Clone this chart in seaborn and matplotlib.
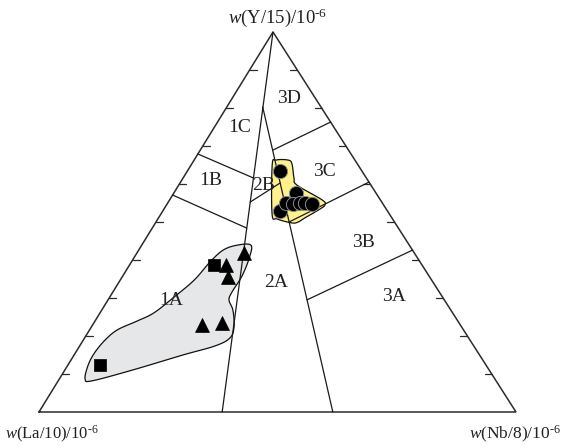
import numpy as np
import pandas as pd
import matplotlib
matplotlib.use("Agg")
import matplotlib.pyplot as plt
import seaborn as sns

sns.set_theme(style="white")
plt.rcParams["font.family"] = ["Liberation Serif", "DejaVu Serif"]
plt.rcParams["mathtext.fontset"] = "custom"
plt.rcParams["mathtext.rm"] = "Liberation Serif"
plt.rcParams["mathtext.it"] = "Liberation Serif:italic"

# ---------------- data: compositions in percent (La/10, Y/15, Nb/8) ----------------
sq_la = [43.6, 80.9]
sq_y = [38.7, 12.4]
sq_nb = [17.7, 6.7]

tri_la = [35.7, 41.1, 42.3, 54.2, 49.7]
tri_y = [41.8, 38.7, 35.5, 22.9, 23.4]
tri_nb = [22.5, 20.2, 22.2, 22.9, 26.9]

cir_la = [17.2, 16.8, 22.5, 20.2, 18.9, 17.3, 16.2, 14.9]
cir_y = [63.4, 57.6, 52.9, 55.0, 54.7, 55.0, 55.0, 54.7]
cir_nb = [19.4, 25.6, 24.6, 24.8, 26.4, 27.7, 28.8, 30.4]

# grey field (triangle/square samples)
grey_la = [85.9, 83.6, 80.7, 76.8, 72.7, 67.2, 62.6, 56.3, 49.8, 44.1, 39.7, 36.1, 33.2,
           35.3, 39.2, 43.5, 45.2, 45.7, 47.7, 50.1, 54.3, 62.2, 74.7, 84.7]
grey_y = [8.7, 12.1, 15.3, 18.7, 21.6, 23.9, 26.1, 30.3, 34.7, 39.5, 42.6, 43.9, 43.9,
          40.5, 35.8, 31.6, 29.5, 26.8, 22.4, 19.5, 17.4, 15.0, 11.1, 8.2]
grey_nb = [5.4, 4.3, 4.0, 4.5, 5.8, 8.8, 11.3, 13.5, 15.5, 16.5, 17.7, 20.0, 22.9,
           24.2, 25.0, 25.0, 25.4, 27.5, 29.9, 30.5, 28.4, 22.8, 14.3, 7.1]

# yellow field (circle samples)
yel_la = [18.0, 16.5, 14.0, 13.7, 15.2, 15.5, 12.2, 12.3, 13.9, 18.2, 20.2, 21.6, 24.2, 24.6]
yel_y = [65.0, 66.3, 66.3, 65.3, 61.6, 59.7, 55.8, 54.5, 53.4, 51.1, 50.0, 49.7, 50.8, 52.1]
yel_nb = [17.0, 17.2, 19.7, 21.0, 23.3, 24.8, 32.0, 33.2, 32.7, 30.7, 29.8, 28.6, 25.0, 23.3]

# field boundaries: start (La, Y, Nb) -> end (La, Y, Nb)
line_start = [(0, 100, 0), (12.2, 80.3, 7.5), (15.9, 68.9, 15.2), (22.1, 50.0, 27.9),
              (28.8, 29.5, 41.7), (32.1, 67.9, 0), (27.6, 55.3, 17.2), (42.9, 57.1, 0)]
line_end = [(61.6, 0, 38.4), (38.4, 0, 61.6), (0, 76.3, 23.7), (0, 60.5, 39.5),
            (0, 42.6, 57.4), (23.7, 61.6, 14.7), (18.7, 60.3, 21.0), (31.8, 48.4, 19.8)]

# field labels
field_names = ["1A", "1B", "1C", "2A", "2B", "3A", "3B", "3C", "3D"]
field_la = [57.4, 32.9, 19.7, 32.9, 22.6, 10.2, 9.1, 7.9, 5.5]
field_y = [29.5, 61.1, 75.0, 34.2, 59.7, 30.3, 44.7, 63.2, 82.6]
field_nb = [13.2, 6.1, 5.3, 32.9, 17.7, 59.6, 46.2, 28.9, 11.9]

# ---------------- layout ----------------
V_LA = np.array([39.0, 412.0])
V_NB = np.array([516.0, 412.0])
V_Y = np.array([273.0, 32.0])


def tern(la, y, nb):
    la, y, nb = (np.asarray(v, dtype=float) for v in (la, y, nb))
    s = la + y + nb
    x = (la * V_LA[0] + y * V_Y[0] + nb * V_NB[0]) / s
    yy = (la * V_LA[1] + y * V_Y[1] + nb * V_NB[1]) / s
    return x, yy


def smooth_closed(x, y, n=10):
    pts = np.c_[x, y]
    N = len(pts)
    out = []
    t = np.linspace(0, 1, n, endpoint=False)[:, None]
    for i in range(N):
        p0, p1, p2, p3 = pts[i - 1], pts[i], pts[(i + 1) % N], pts[(i + 2) % N]
        out.append(0.5 * ((2 * p1) + (-p0 + p2) * t + (2 * p0 - 5 * p1 + 4 * p2 - p3) * t ** 2
                          + (-p0 + 3 * p1 - 3 * p2 + p3) * t ** 3))
    return np.vstack(out)


fig = plt.figure(figsize=(5.69, 4.47), dpi=100)
ax = fig.add_axes([0, 0, 1, 1])
ax.set_xlim(0, 569)
ax.set_ylim(447, 0)
ax.axis("off")

# fields
gx, gy = tern(grey_la, grey_y, grey_nb)
gp = smooth_closed(gx, gy)
ax.fill(gp[:, 0], gp[:, 1], facecolor="#e6e7e8", edgecolor="#111111", lw=0.9, zorder=1)
yx, yy = tern(yel_la, yel_y, yel_nb)
yp = smooth_closed(yx, yy, n=6)
ax.fill(yp[:, 0], yp[:, 1], facecolor="#fff28c", edgecolor="#111111", lw=0.9, zorder=1)

# triangle frame
fx, fy = tern([100, 0, 0, 100], [0, 0, 100, 0], [0, 100, 0, 0])
ax.plot(fx, fy, color="#2b2b2b", lw=1.1, zorder=2, solid_joinstyle="miter")

# ticks on left and right edges
for f in np.arange(0.1, 0.95, 0.1):
    lx, ly = tern(1 - f, f, 0)
    ax.plot([lx, lx + 7], [ly, ly], color="#2b2b2b", lw=0.9, zorder=2)
    rx, ry = tern(0, f, 1 - f)
    ax.plot([rx, rx - 7], [ry, ry], color="#2b2b2b", lw=0.9, zorder=2)

# boundaries
for s, e in zip(line_start, line_end):
    lx, ly = tern(*zip(s, e))
    ax.plot(lx, ly, color="#1a1a1a", lw=0.9, zorder=2)

# field labels
lx, ly = tern(field_la, field_y, field_nb)
for name, x, y in zip(field_names, lx, ly):
    ax.text(x, y, name, ha="center", va="center", fontsize=14, color="#222222", zorder=3)

# samples
sx, sy = tern(sq_la, sq_y, sq_nb)
tx, ty = tern(tri_la, tri_y, tri_nb)
cx, cy = tern(cir_la, cir_y, cir_nb)
sns.scatterplot(x=sx, y=sy, marker="s", s=80, color="black", edgecolor="black", linewidth=0.5, ax=ax, zorder=4)
sns.scatterplot(x=tx, y=ty, marker="^", s=100, color="black", edgecolor="black", linewidth=0.5, ax=ax, zorder=4)
sns.scatterplot(x=cx, y=cy, marker="o", s=105, color="black", edgecolor="#8a8a8a", linewidth=0.7, ax=ax, zorder=4)

# axis titles
ax.text(278, 18, r"$\mathit{w}$(Y/15)/10$^{\text{-6}}$", ha="center", va="center", fontsize=13.5, color="#222222")
ax.text(52, 434, r"$\mathit{w}$(La/10)/10$^{\text{-6}}$", ha="center", va="center", fontsize=12, color="#222222")
ax.text(515, 434, r"$\mathit{w}$(Nb/8)/10$^{\text{-6}}$", ha="center", va="center", fontsize=12.5, color="#222222")

fig.savefig("out.png", dpi=100)
